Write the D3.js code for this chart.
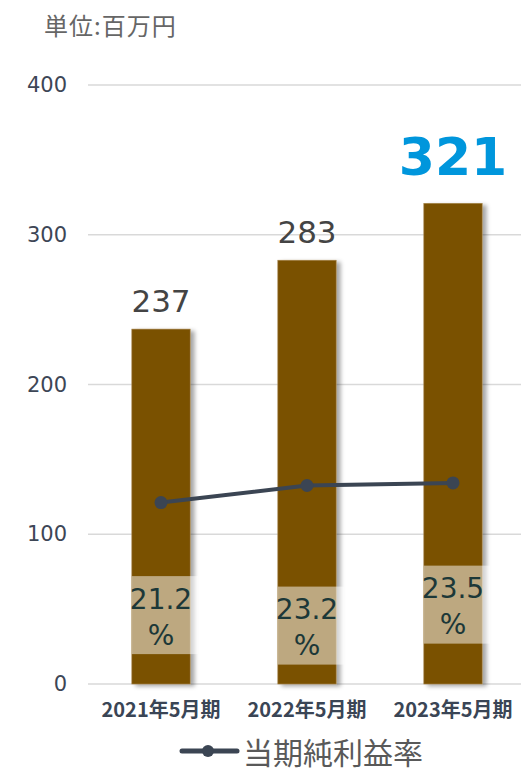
<!DOCTYPE html>
<html>
<head>
<meta charset="utf-8">
<script src="https://cdn.jsdelivr.net/npm/d3@7"></script>
<style>
  body { margin: 0; background: #fff; }
  svg { display: block; }
</style>
</head>
<body>
<div id="chart"></div>
<script>
// data
var periods = ["2021年5月期", "2022年5月期", "2023年5月期"];
var netIncome = [237, 283, 321];
var netMargin = [21.2, 23.2, 23.5];
var yTicks = [0, 100, 200, 300, 400];
var marginLabelAt = [46, 39, 53]; // where the % labels sit, in axis units

var width = 521, height = 769;
var plotLeft = 88, plotTop = 85, plotBottom = 684;

var svg = d3.select("#chart").append("svg")
  .attr("width", width)
  .attr("height", height);

var defs = svg.append("defs");
var f = defs.append("filter").attr("id", "shadow")
  .attr("x", "-20%").attr("y", "-5%").attr("width", "150%").attr("height", "115%");
f.append("feDropShadow")
  .attr("dx", 4).attr("dy", 2)
  .attr("stdDeviation", 2)
  .attr("flood-color", "#000")
  .attr("flood-opacity", 0.35);

var x = d3.scaleBand()
  .domain(periods)
  .range([plotLeft, plotLeft + 3 * 146])
  .paddingInner(0)
  .paddingOuter(0);

var y = d3.scaleLinear().domain([0, 400]).range([plotBottom, plotTop]);
var y2 = d3.scaleLinear().domain([0, 70]).range([plotBottom, plotTop]);

var bw = x.step() * 0.4;
var cx = function(d) { return x(d) + x.bandwidth() / 2; };

// title
svg.append("text")
  .attr("x", 44).attr("y", 24)
  .attr("dominant-baseline", "central")
  .style("font-family", "'Noto Sans CJK JP', sans-serif")
  .style("font-size", "24px")
  .style("letter-spacing", "1px")
  .style("fill", "#666")
  .text("単位:百万円");

// grid + tick labels
var grid = svg.append("g");
grid.selectAll("line")
  .data(yTicks)
  .enter().append("line")
  .attr("x1", plotLeft).attr("x2", width)
  .attr("y1", function(d) { return y(d); })
  .attr("y2", function(d) { return y(d); })
  .style("stroke", "#d9d9d9")
  .style("stroke-width", 1.5);

grid.selectAll("text")
  .data(yTicks)
  .enter().append("text")
  .attr("x", 67)
  .attr("y", function(d) { return y(d); })
  .attr("text-anchor", "end")
  .attr("dominant-baseline", "central")
  .style("font-family", "'DejaVu Sans', sans-serif")
  .style("font-size", "21px")
  .style("fill", "#3d4656")
  .text(function(d) { return d; });

// bars
svg.append("g").selectAll("rect")
  .data(netIncome)
  .enter().append("rect")
  .attr("x", function(d, i) { return cx(periods[i]) - bw / 2; })
  .attr("y", function(d) { return y(d); })
  .attr("width", bw)
  .attr("height", function(d) { return y(0) - y(d); })
  .style("fill", "#7a5100")
  .style("stroke", "#a8884f")
  .style("stroke-width", 0.6)
  .attr("filter", "url(#shadow)");

// value labels
svg.append("g").selectAll("text")
  .data(netIncome)
  .enter().append("text")
  .attr("x", function(d, i) { return cx(periods[i]); })
  .attr("y", function(d, i) { return y(d) - (i == 2 ? 28 : 17); })
  .attr("text-anchor", "middle")
  .style("font-family", "'DejaVu Sans', sans-serif")
  .style("font-size", function(d, i) { return i == 2 ? "52px" : "31px"; })
  .style("font-weight", function(d, i) { return i == 2 ? "bold" : "normal"; })
  .style("fill", function(d, i) { return i == 2 ? "#0096dc" : "#444"; })
  .text(function(d) { return d; });

// margin label boxes
var lbl = svg.append("g").selectAll("g")
  .data(netMargin)
  .enter().append("g")
  .attr("transform", function(d, i) {
    return "translate(" + (cx(periods[i]) - bw / 2) + "," + y(marginLabelAt[i]) + ")";
  });

lbl.append("rect")
  .attr("x", 0).attr("y", -39)
  .attr("width", bw + 8).attr("height", 78)
  .style("fill", "#fff")
  .style("fill-opacity", 0.5);

lbl.append("text")
  .attr("x", bw / 2).attr("y", -16)
  .attr("text-anchor", "middle")
  .attr("dominant-baseline", "central")
  .style("font-family", "'DejaVu Sans', sans-serif")
  .style("font-size", "28px")
  .style("fill", "#1c3838")
  .text(function(d) { return d.toFixed(1); });

lbl.append("text")
  .attr("x", bw / 2).attr("y", 20)
  .attr("text-anchor", "middle")
  .attr("dominant-baseline", "central")
  .style("font-family", "'DejaVu Sans', sans-serif")
  .style("font-size", "28px")
  .style("fill", "#1c3838")
  .text("%");

// margin line
var line = d3.line()
  .x(function(d, i) { return cx(periods[i]); })
  .y(function(d) { return y2(d); });

svg.append("path")
  .datum(netMargin)
  .attr("d", line)
  .style("fill", "none")
  .style("stroke", "#3b4553")
  .style("stroke-width", 4);

svg.append("g").selectAll("circle")
  .data(netMargin)
  .enter().append("circle")
  .attr("cx", function(d, i) { return cx(periods[i]); })
  .attr("cy", function(d) { return y2(d); })
  .attr("r", 6.5)
  .style("fill", "#3b4553");

// x labels
svg.append("g").selectAll("text")
  .data(periods)
  .enter().append("text")
  .attr("x", function(d) { return cx(d); })
  .attr("y", 708)
  .attr("text-anchor", "middle")
  .attr("dominant-baseline", "central")
  .style("font-family", "'Noto Sans CJK JP', sans-serif")
  .style("font-size", "20px")
  .style("font-weight", "bold")
  .style("fill", "#3a4555")
  .text(function(d) { return d; });

// legend
var lg = svg.append("g").attr("transform", "translate(182,751)");
lg.append("line")
  .attr("x1", 0).attr("x2", 55)
  .style("stroke", "#3b4553")
  .style("stroke-width", 5)
  .style("stroke-linecap", "round");
lg.append("circle")
  .attr("cx", 26).attr("r", 6)
  .style("fill", "#3b4553");
lg.append("text")
  .attr("x", 61).attr("y", 0)
  .attr("dominant-baseline", "central")
  .style("font-family", "'Noto Sans CJK JP', sans-serif")
  .style("font-size", "30px")
  .style("fill", "#595959")
  .text("当期純利益率");
</script>
</body>
</html>
